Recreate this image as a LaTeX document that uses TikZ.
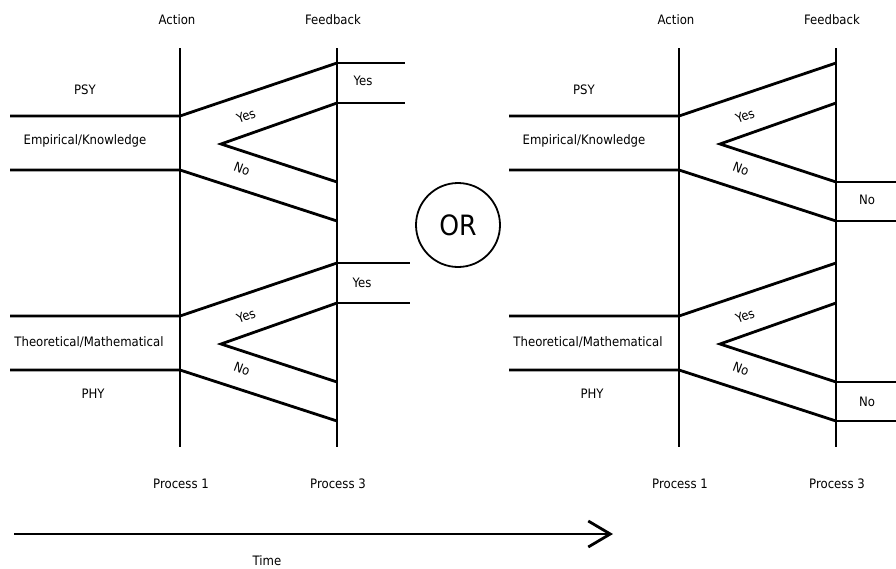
\documentclass[tikz,border=0pt]{standalone}
\usepackage{fontspec}
\setmainfont{DejaVu Sans}[FakeStretch=0.9]
\usetikzlibrary{arrows.meta}

\begin{document}
\begin{tikzpicture}[x=1pt,y=-1pt,line width=2.8pt,
  lbl/.style={font=\fontsize{13}{15}\selectfont,inner sep=0pt}]
\useasboundingbox (0,0) rectangle (896,568);

% two panels, the right one shifted
\foreach \p/\s in {L/0,R/499}{
\begin{scope}[xshift=\s]
\coordinate (act\p-t) at (180,48);
\coordinate (act\p-b) at (180,447);
\coordinate (fb\p-t) at (337,48);
\coordinate (fb\p-b) at (337,447);
\draw (act\p-t)--(act\p-b);
\draw (fb\p-t)--(fb\p-b);

\node [lbl] (action\p) at (177,20) {Action};
\node [lbl] (feedback\p) at (333,20) {Feedback};
\node [lbl] (proc1\p) at (181,484) {Process 1};
\node [lbl] (proc3\p) at (338,484) {Process 3};

\node [lbl] (psy\p) at (85,90) {PSY};
\node [lbl] (emp\p) at (85,141) {Empirical/Knowledge};
\node [lbl] (theo\p) at (89,342) {Theoretical/Mathematical};
\node [lbl] (phy\p) at (93,394) {PHY};

% the two branchings
\foreach \g/\dy in {a/0,b/200}{
\begin{scope}[yshift=-\dy]
\coordinate (in\p\g-u) at (10,116);
\coordinate (j\p\g-u) at (180,116);
\coordinate (in\p\g-l) at (10,170);
\coordinate (j\p\g-l) at (180,170);
\coordinate (fb\p\g-1) at (337,63);
\coordinate (fb\p\g-2) at (337,103);
\coordinate (apex\p\g) at (221,144);
\coordinate (fb\p\g-3) at (337,182);
\coordinate (fb\p\g-4) at (337,221);

\draw (in\p\g-u)--(j\p\g-u)--(fb\p\g-1);
\draw (fb\p\g-2)--(apex\p\g)--(fb\p\g-3);
\draw (in\p\g-l)--(j\p\g-l)--(fb\p\g-4);

\node [lbl,rotate=21] (yes\p\g) at (246,116) {Yes};
\node [lbl,rotate=-21] (no\p\g) at (242,169) {No};
\end{scope}}
\end{scope}}

% Yes boxes (left)
\coordinate (ya) at (405,0);
\coordinate (yb) at (410,0);
\draw (fbLa-1)--(fbLa-1 -| ya);
\draw (fbLa-2)--(fbLa-2 -| ya);
\draw (fbLb-1)--(fbLb-1 -| yb);
\draw (fbLb-2)--(fbLb-2 -| yb);
\node [lbl] (yesboxa) at (363,81) {Yes};
\node [lbl] (yesboxb) at (362,283) {Yes};

% No boxes (right)
\coordinate (nr) at (896,0);
\draw (fbRa-3)--(fbRa-3 -| nr);
\draw (fbRa-4)--(fbRa-4 -| nr);
\draw (fbRb-3)--(fbRb-3 -| nr);
\draw (fbRb-4)--(fbRb-4 -| nr);
\node [lbl] (noboxa) at (867,200) {No};
\node [lbl] (noboxb) at (867,402) {No};

\node [draw,circle,line width=1.8pt,minimum size=84pt,inner sep=0pt,
  font=\fontsize{28}{30}\selectfont] (or) at (458,225) {OR};

% time axis
\coordinate (t0) at (14,534);
\coordinate (t1) at (613,534);
\draw[-{Straight Barb[length=22pt,width=26pt]}] (t0)--(t1);
\node [lbl] (time) at (267,561) {Time};

\end{tikzpicture}
\end{document}
